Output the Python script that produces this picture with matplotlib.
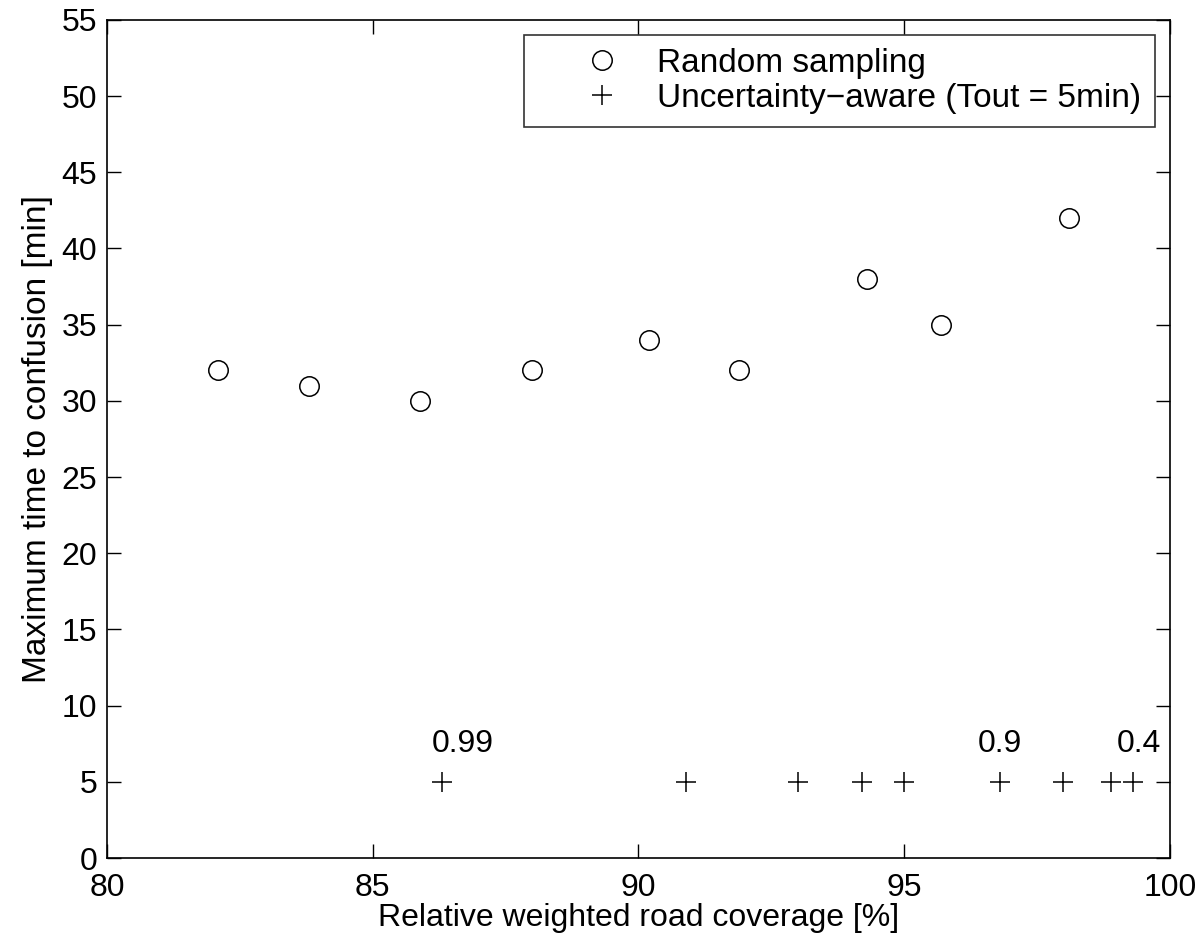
import matplotlib
matplotlib.use("Agg")
import matplotlib.pyplot as plt

plt.rcParams['font.family'] = ['Liberation Sans', 'DejaVu Sans']

# random sampling results
rand_cov = [82.1, 83.8, 85.9, 88.0, 90.2, 91.9, 94.3, 95.7, 98.1]
rand_time = [32, 31, 30, 32, 34, 32, 38, 35, 42]

# uncertainty-aware results (Tout = 5min)
unc_cov = [86.3, 90.9, 93.0, 94.2, 95.0, 96.8, 98.0, 98.9, 99.3]
unc_time = [5, 5, 5, 5, 5, 5, 5, 5, 5]

# threshold labels
lab_x = [86.12, 96.38, 99.0]
lab_y = [7.5, 7.5, 7.5]
lab_txt = ['0.99', '0.9', '0.4']

fs = 23

fig = plt.figure(figsize=(12.01, 9.44), dpi=100)
ax = fig.add_axes([0.089, 0.091, 0.885, 0.888])

ax.plot(rand_cov, rand_time, 'o', mfc='none', mec='k', ms=14, mew=1.1, label='Random sampling')
ax.plot(unc_cov, unc_time, '+', color='k', ms=15, mew=1.1, label='Uncertainty\u2212aware (Tout = 5min)')

for x, y, t in zip(lab_x, lab_y, lab_txt):
    ax.text(x, y, t, fontsize=fs, ha='left', va='center')

ax.set_xlim(80, 100)
ax.set_ylim(0, 55)
ax.set_xticks(range(80, 101, 5))
ax.set_yticks(range(0, 56, 5))
ax.tick_params(direction='in', length=10, width=1, top=True, right=True, labelsize=fs)
ax.tick_params(axis='x', pad=11)
ax.tick_params(axis='y', pad=7)
for s in ax.spines.values():
    s.set_linewidth(1.2)

ax.set_xlabel('Relative weighted road coverage [%]', fontsize=fs, labelpad=0)
ax.set_ylabel('Maximum time to confusion [min]', fontsize=24, labelpad=6)

leg = ax.legend(loc='upper right', fontsize=24, frameon=True, fancybox=False,
                edgecolor='k', borderaxespad=0.45, handletextpad=-0.3,
                labelspacing=0.12, borderpad=0.4, handlelength=3.9)
leg.get_frame().set_linewidth(1.2)

fig.savefig('out.png', dpi=100)
